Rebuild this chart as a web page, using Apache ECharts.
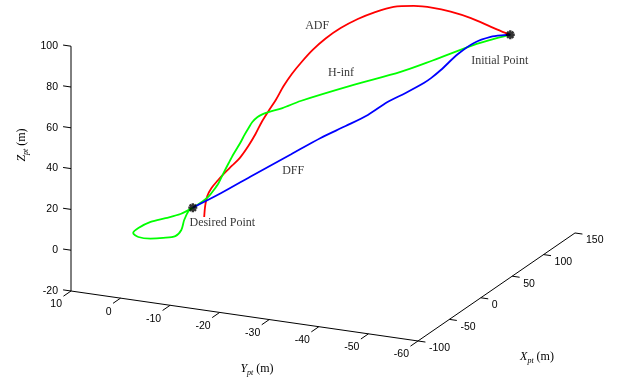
<!DOCTYPE html>
<html>
<head>
<meta charset="utf-8">
<script src="https://cdn.jsdelivr.net/npm/echarts@6/dist/echarts.min.js"></script>
<style>
  html, body { margin: 0; padding: 0; background: #fff; }
  #chart { width: 621px; height: 380px; }
</style>
</head>
<body>
<div id="chart"></div>
<script>
// ---- axis limits and tick values (metres) ----
const xLim = [-100, 150];
const yLim = [-60, 10];
const zLim = [-20, 100];
const xTicks = [-100, -50, 0, 50, 100, 150];
const yTicks = [10, 0, -10, -20, -30, -40, -50, -60];
const zTicks = [-20, 0, 20, 40, 60, 80, 100];

// ---- start and goal of the manoeuvre ----
const initialPoint = [118, -51.0, 80.8];
const desiredPoint = [15, 0, 0];

// ---- ADF trajectory ----
const adfX = [118, 115, 111, 105, 98, 92, 86, 79, 72, 67, 61, 56, 52, 48, 44, 42, 39, 37, 34, 32, 30, 27, 25, 22, 20, 18, 16, 15, 15];
const adfY = [-51.0, -49.5, -48.0, -44.7, -41.5, -38.7, -35.6, -32.4, -29.3, -26.7, -24.0, -21.6, -19.5, -17.6, -16.3, -14.9, -13.7, -12.5, -11.5, -10.5, -9.3, -8.1, -6.7, -5.5, -4.4, -3.4, -2.8, -2.5, -2.3];
const adfZ = [80.8, 82.7, 85.1, 89.5, 93.0, 95.2, 96.3, 96.2, 93.8, 90.8, 86.7, 81.8, 76.3, 70.1, 65.1, 59.1, 52.5, 47.1, 42.0, 36.2, 30.3, 25.1, 20.9, 17.4, 13.8, 10.2, 6.5, 1.7, -3.8];

// ---- H-inf trajectory ----
const hinfX = [118, 112, 106, 93, 83, 69, 54, 48, 44, 42, 40, 38, 36, 35, 33, 31, 28, 26, 23, 21, 19, 17, 15, 8, 0, -8, -14, -16, -14, -9, -3, 3, 7, 10, 13, 15];
const hinfY = [-51.0, -47.8, -45.2, -38.5, -33.3, -25.6, -16.8, -13.9, -11.6, -10.7, -9.9, -9.1, -8.6, -7.9, -7.4, -6.2, -5.6, -4.8, -4.2, -3.4, -2.7, -1.7, 0, 1.6, 3.6, 5.6, 7.3, 8.1, 7.3, 5.5, 3.7, 2.0, 1.3, 1.1, 0.6, 0];
const hinfZ = [80.8, 78.4, 76.3, 69.1, 63.8, 57.7, 49.9, 46.7, 44.8, 43.9, 42.6, 40.3, 37.6, 34.2, 31.0, 25.1, 21.1, 16.3, 11.9, 8.3, 5.6, 3.2, 0, -2.2, -3.2, -4.1, -6.4, -8.7, -10.8, -12.0, -12.3, -12.1, -9.7, -5.4, -1.4, 0];

// ---- DFF trajectory ----
const dffX = [118, 116, 112, 106, 101, 95, 92, 90, 84, 78, 72, 65, 56, 47, 35, 24, 15];
const dffY = [-51.0, -50.0, -47.8, -45.2, -42.6, -39.9, -38.3, -37.1, -34.2, -31.3, -28.1, -24.5, -20.6, -15.7, -9.7, -4.5, 0];
const dffZ = [80.8, 80.7, 79.9, 77.3, 72.0, 64.5, 60.6, 58.2, 53.6, 49.4, 43.2, 38.0, 32.7, 24.8, 15.2, 6.7, 0];

// ---- oblique view: the 3-D box is flattened onto a hidden 2-D plane ----
const view = {
  corner: [71, 291],          // plane position of (xMin, yMax, zMin)
  xStep: [0.628, -0.432],     // plane shift per metre of X
  yStep: [-4.957, -0.714],    // plane shift per metre of Y
  zStep: [0, -2.04]           // plane shift per metre of Z
};
function project(p) {
  const dx = p[0] - xLim[0], dy = p[1] - yLim[1], dz = p[2] - zLim[0];
  return [
    view.corner[0] + dx * view.xStep[0] + dy * view.yStep[0] + dz * view.zStep[0],
    view.corner[1] + dx * view.xStep[1] + dy * view.yStep[1] + dz * view.zStep[1]
  ];
}
function track(xs, ys, zs) {
  return xs.map((x, i) => project([x, ys[i], zs[i]]));
}

const tickFont = '10.5px "Liberation Sans", Arial, sans-serif';
const serif = '"Liberation Serif", "Times New Roman", serif';

// one axis of the box: line, tick marks and tick labels
function boxAxis(from, to, ticks, pointAt, tickDelta, labelShift, align) {
  return [
    {
      type: 'line', silent: true, symbol: 'none', z: 1,
      lineStyle: { color: '#000', width: 1 },
      data: [project(from), project(to)]
    },
    {
      type: 'custom', silent: true, z: 1,
      encode: { x: 0, y: 1 },
      data: ticks.map(t => {
        const p = pointAt(t);
        const b = project(p);
        const e = project([p[0] + tickDelta[0], p[1] + tickDelta[1], p[2] + tickDelta[2]]);
        return [b[0], b[1], e[0], e[1], t];
      }),
      renderItem(params, api) {
        const b = api.coord([api.value(0), api.value(1)]);
        const e = api.coord([api.value(2), api.value(3)]);
        return {
          type: 'group',
          children: [
            { type: 'line', shape: { x1: b[0], y1: b[1], x2: e[0], y2: e[1] },
              style: { stroke: '#000', lineWidth: 1 } },
            { type: 'text', x: b[0] + labelShift[0], y: b[1] + labelShift[1],
              style: { text: String(api.value(4)), font: tickFont, fill: '#000',
                       align: align, verticalAlign: 'middle' } }
          ]
        };
      }
    }
  ];
}

const axisSeries = [].concat(
  boxAxis([xLim[0], yLim[1], zLim[0]], [xLim[0], yLim[1], zLim[1]], zTicks,
          z => [xLim[0], yLim[1], z], [0, 1.6, 0], [-13, 0], 'right'),
  boxAxis([xLim[0], yLim[1], zLim[0]], [xLim[0], yLim[0], zLim[0]], yTicks,
          y => [xLim[0], y, zLim[0]], [-12, 0, 0], [-9, 13.5], 'right'),
  boxAxis([xLim[0], yLim[0], zLim[0]], [xLim[1], yLim[0], zLim[0]], xTicks,
          x => [x, yLim[0], zLim[0]], [0, -1.5, 0], [11, 7.5], 'left')
);

function trajectory(name, color, xs, ys, zs) {
  return {
    name, type: 'line', symbol: 'none', smooth: 0.3, z: 3,
    lineStyle: { color, width: 1.8 },
    data: track(xs, ys, zs)
  };
}

function note(text, p, offset) {
  return {
    value: project(p),
    label: { show: true, formatter: text, position: [0, 0], align: 'center',
             verticalAlign: 'middle', offset, color: '#000',
             fontFamily: serif, fontSize: 12 }
  };
}

const starPath = 'path://M0,-10L0,10M-10,0L10,0M-7,-7L7,7M-7,7L7,-7';

function axisTitle(letter, x, y, rotation) {
  return {
    type: 'text', x, y, rotation,
    style: {
      text: '{i|' + letter + '}{s|pt}{n| (m)}', align: 'center', verticalAlign: 'middle',
      rich: {
        i: { fontFamily: serif, fontStyle: 'italic', fontSize: 12, lineHeight: 16, verticalAlign: 'middle', fill: '#000' },
        s: { fontFamily: serif, fontStyle: 'italic', fontSize: 8, lineHeight: 16, verticalAlign: 'bottom', fill: '#000' },
        n: { fontFamily: serif, fontSize: 12, lineHeight: 16, verticalAlign: 'middle', fill: '#000' }
      }
    }
  };
}

const option = {
  animation: false,
  backgroundColor: '#fff',
  grid: { left: 0, right: 0, top: 0, bottom: 0 },
  xAxis: { type: 'value', min: 0, max: 621, show: false },
  yAxis: { type: 'value', min: 0, max: 380, inverse: true, show: false },
  series: axisSeries.concat([
    trajectory('ADF', '#ff0000', adfX, adfY, adfZ),
    trajectory('H-inf', '#00ff00', hinfX, hinfY, hinfZ),
    trajectory('DFF', '#0000ff', dffX, dffY, dffZ),
    {
      type: 'scatter', silent: true, z: 5,
      symbol: starPath, symbolSize: 9,
      itemStyle: { color: '#000', borderColor: '#000', borderWidth: 2.4 },
      data: [project(initialPoint), project(desiredPoint)]
    },
    {
      type: 'scatter', silent: true, z: 6, symbolSize: 1,
      itemStyle: { color: 'rgba(0,0,0,0)' },
      data: [
        note('ADF', [adfX[10], adfY[10], adfZ[10]], [-23, -2]),
        note('H-inf', [hinfX[5], hinfY[5], hinfZ[5]], [-12, -12]),
        note('DFF', [dffX[13], dffY[13], dffZ[13]], [3, 16.5]),
        note('Initial Point', initialPoint, [-10, 27]),
        note('Desired Point', desiredPoint, [30, 16])
      ]
    }
  ]),
  graphic: [
    axisTitle('Z', 22, 145, Math.PI / 2),
    axisTitle('Y', 257, 369, 0),
    axisTitle('X', 537, 357, 0)
  ]
};

const chart = echarts.init(document.getElementById('chart'), null, { renderer: 'canvas' });
chart.setOption(option);
</script>
</body>
</html>
